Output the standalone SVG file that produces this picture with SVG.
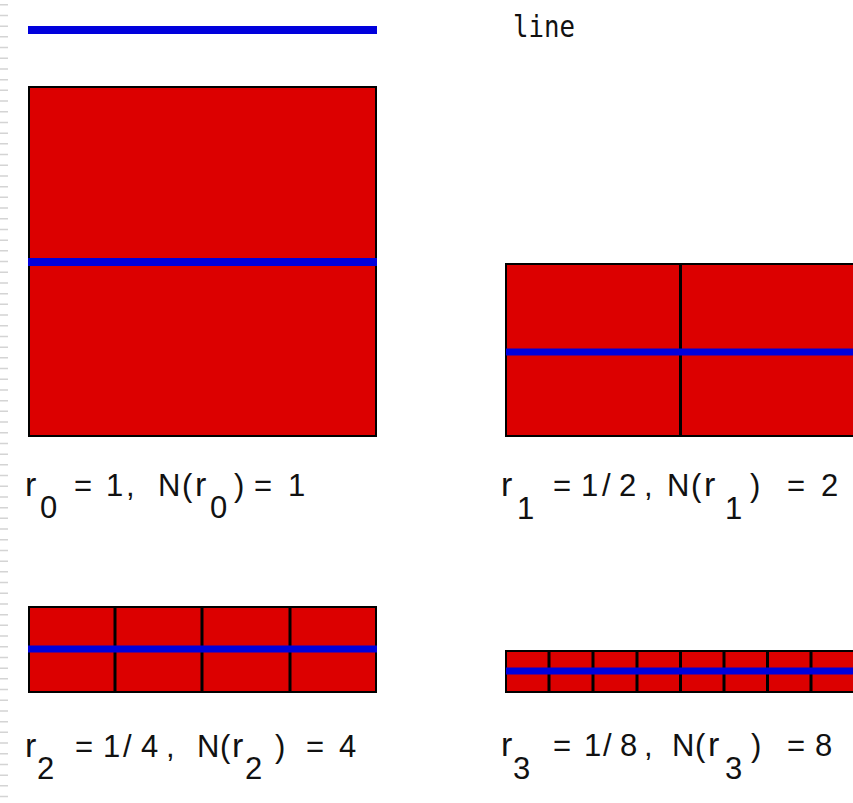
<svg xmlns="http://www.w3.org/2000/svg" width="853" height="803" viewBox="0 0 853 803">
<style>
.sq{fill:#dc0000;stroke:#000;stroke-width:2}
.div{stroke:#000;stroke-width:3}
.bl{stroke:#0000dc;stroke-width:7}
.t{font-family:"Liberation Sans","DejaVu Sans",sans-serif;font-size:31px;fill:#111}
.r{font-size:34px}
.s{font-family:"Liberation Sans","DejaVu Sans",sans-serif;font-size:31px;fill:#111}
</style>
<rect width="853" height="803" fill="#fff"/>
<line x1="4" y1="0" x2="4" y2="803" stroke="#d4d4d4" stroke-width="8" stroke-dasharray="1.5 9.2" stroke-dashoffset="-4"/>
<g id="line-ref">
<line x1="28" y1="30" x2="377" y2="30" stroke="#0000dc" stroke-width="8"/>
<text x="513" y="37" font-family="'DejaVu Sans Mono',monospace" font-size="31" fill="#111" textLength="62" lengthAdjust="spacingAndGlyphs">line</text>
</g>
<g id="r0">
<rect class="sq" x="29" y="87" width="347" height="349"/>
<line x1="28" y1="262" x2="377" y2="262" stroke="#0000dc" stroke-width="8"/>
<text class="t" y="496"><tspan x="25" class="r">r</tspan><tspan x="74">=</tspan><tspan x="106">1</tspan><tspan x="126">,</tspan><tspan x="158">N</tspan><tspan x="182">(</tspan><tspan x="195" class="r">r</tspan><tspan x="234">)</tspan><tspan x="254">=</tspan><tspan x="288">1</tspan></text>
<text class="s" y="518"><tspan x="40">0</tspan><tspan x="210">0</tspan></text>
</g>
<g id="r1">
<rect class="sq" x="506" y="264" width="350" height="172"/>
<line class="div" x1="680.5" y1="264" x2="680.5" y2="436"/>
<line class="bl" x1="506" y1="352" x2="853" y2="352"/>
<text class="t" y="496"><tspan x="501" class="r">r</tspan><tspan x="553">=</tspan><tspan x="581">1</tspan><tspan x="602">/</tspan><tspan x="619">2</tspan><tspan x="644">,</tspan><tspan x="667">N</tspan><tspan x="691">(</tspan><tspan x="704" class="r">r</tspan><tspan x="750">)</tspan><tspan x="787">=</tspan><tspan x="821">2</tspan></text>
<text class="s" y="519"><tspan x="517">1</tspan><tspan x="725">1</tspan></text>
</g>
<g id="r2">
<rect class="sq" x="29" y="607" width="347" height="85"/>
<line class="div" x1="115" y1="607" x2="115" y2="692"/>
<line class="div" x1="202" y1="607" x2="202" y2="692"/>
<line class="div" x1="290" y1="607" x2="290" y2="692"/>
<line class="bl" x1="28" y1="649" x2="377" y2="649"/>
<text class="t" y="757"><tspan x="25" class="r">r</tspan><tspan x="75">=</tspan><tspan x="103">1</tspan><tspan x="123">/</tspan><tspan x="141">4</tspan><tspan x="166">,</tspan><tspan x="197">N</tspan><tspan x="220">(</tspan><tspan x="232" class="r">r</tspan><tspan x="275">)</tspan><tspan x="306">=</tspan><tspan x="339">4</tspan></text>
<text class="s" y="779"><tspan x="37">2</tspan><tspan x="245">2</tspan></text>
</g>
<g id="r3">
<rect class="sq" x="506" y="651" width="350" height="41"/>
<line class="div" x1="549" y1="651" x2="549" y2="692"/>
<line class="div" x1="593" y1="651" x2="593" y2="692"/>
<line class="div" x1="637" y1="651" x2="637" y2="692"/>
<line class="div" x1="680.5" y1="651" x2="680.5" y2="692"/>
<line class="div" x1="724" y1="651" x2="724" y2="692"/>
<line class="div" x1="767.5" y1="651" x2="767.5" y2="692"/>
<line class="div" x1="811" y1="651" x2="811" y2="692"/>
<line class="bl" x1="506" y1="671" x2="853" y2="671"/>
<text class="t" y="756"><tspan x="501" class="r">r</tspan><tspan x="553">=</tspan><tspan x="584">1</tspan><tspan x="603">/</tspan><tspan x="620">8</tspan><tspan x="644">,</tspan><tspan x="672">N</tspan><tspan x="695">(</tspan><tspan x="708" class="r">r</tspan><tspan x="751">)</tspan><tspan x="787">=</tspan><tspan x="815">8</tspan></text>
<text class="s" y="779"><tspan x="513">3</tspan><tspan x="725">3</tspan></text>
</g>
</svg>
